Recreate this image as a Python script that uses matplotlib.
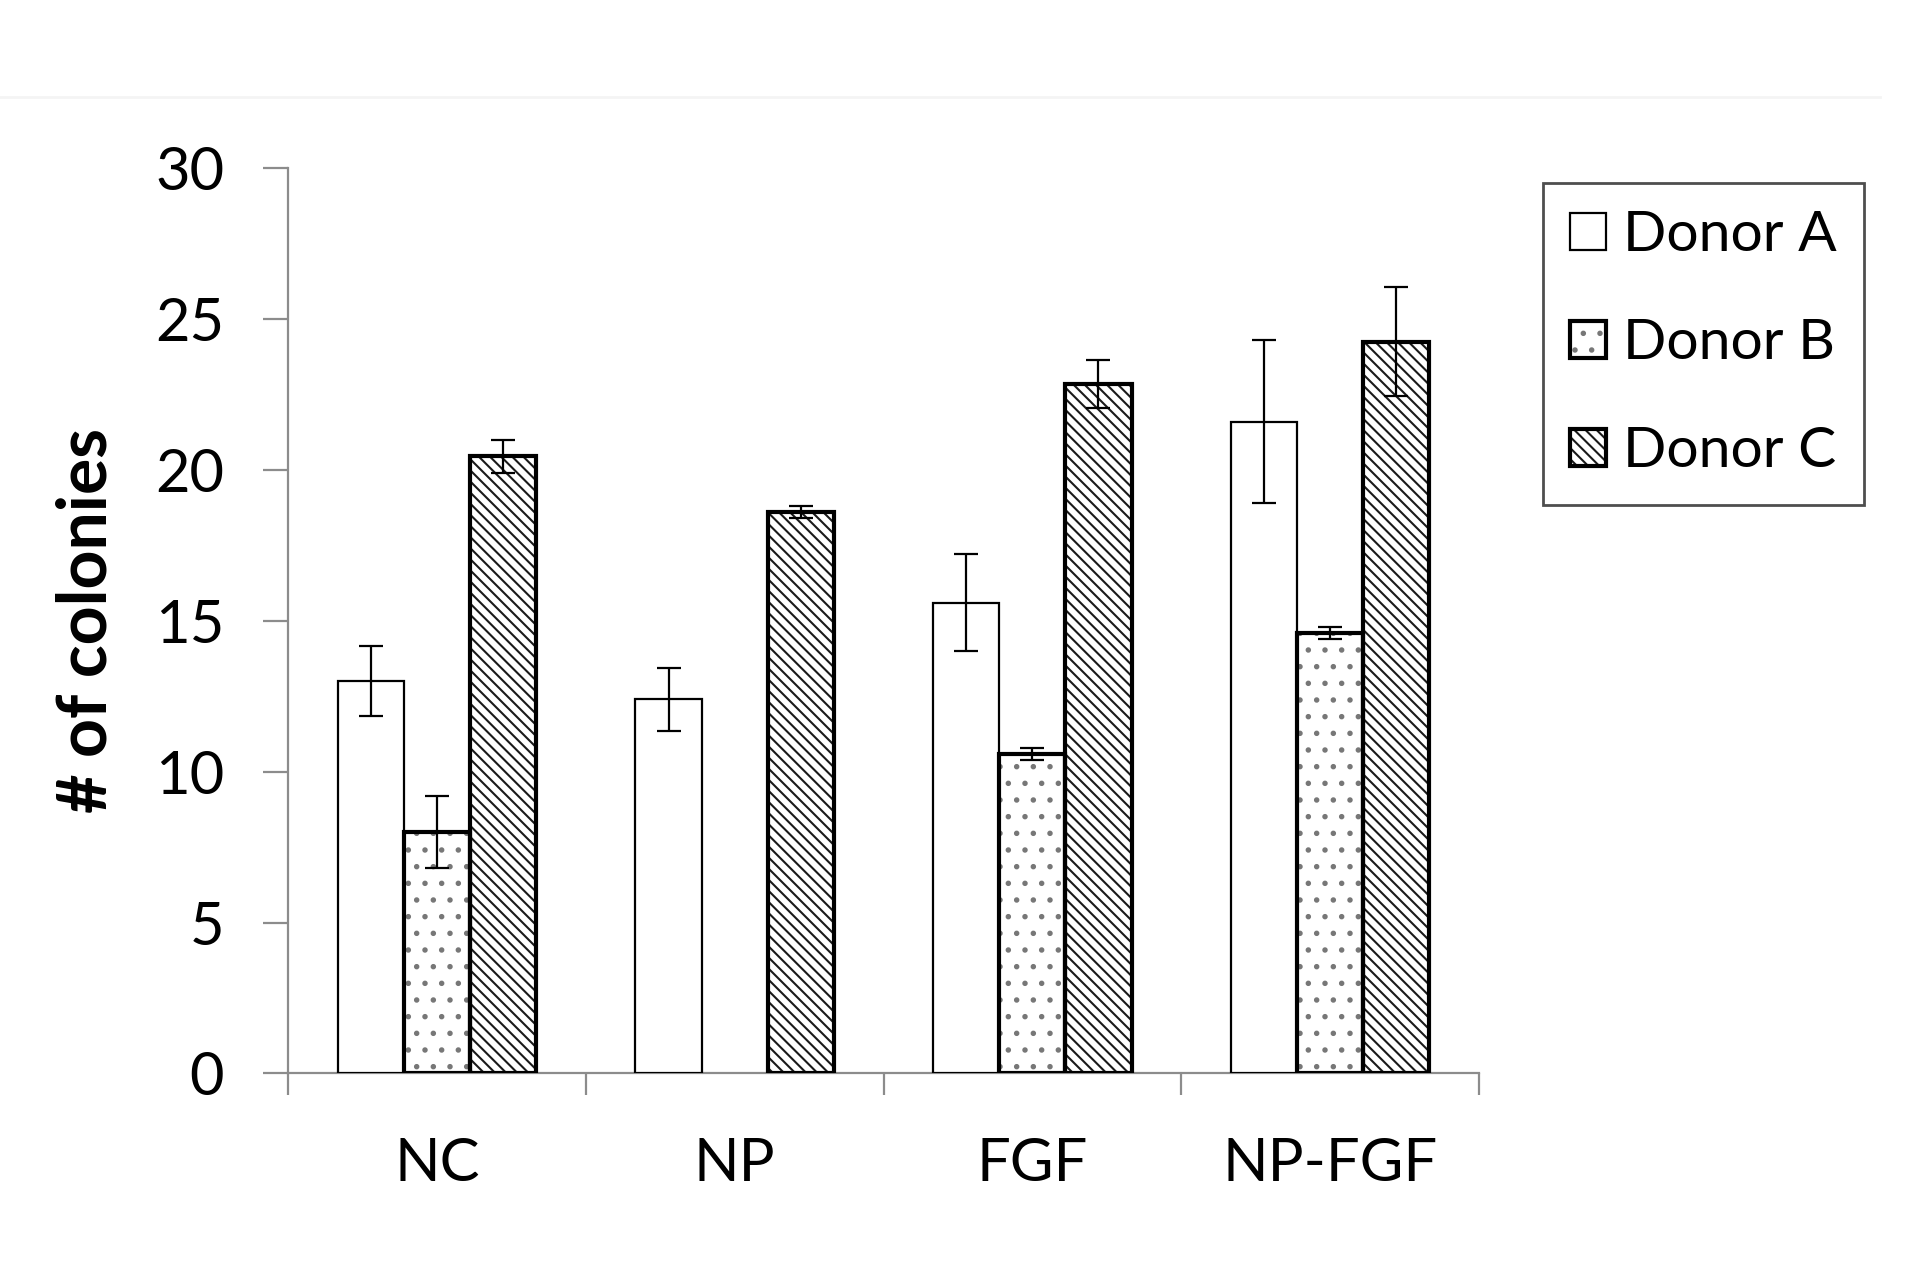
import matplotlib
matplotlib.use("Agg")
import matplotlib.pyplot as plt
import numpy as np
from matplotlib.ticker import FixedLocator

categories = ["NC", "NP", "FGF", "NP-FGF"]
series_names = ["Donor A", "Donor B", "Donor C"]
donor_a = [13.0, 12.4, 15.6, 21.6]
donor_a_err = [1.15, 1.05, 1.6, 2.7]
donor_b = [8.0, 0.0, 10.6, 14.6]
donor_b_err = [1.2, 0.0, 0.2, 0.2]
donor_c = [20.45, 18.6, 22.85, 24.25]
donor_c_err = [0.55, 0.2, 0.8, 1.8]
yticks = [0, 5, 10, 15, 20, 25, 30]

plt.rcParams['font.family'] = ['Lato', 'DejaVu Sans']
plt.rcParams['hatch.linewidth'] = 1.5

fig = plt.figure(figsize=(19.24, 12.76), dpi=100)
ax = fig.add_axes([0.1497, 0.1587, 0.7687 - 0.1497, 0.8683 - 0.1587])

x = np.arange(len(categories))
w = 0.222
ekw = dict(ecolor='black', elinewidth=1.6, capthick=1.6, capsize=8.5)

vals = [donor_a, donor_b, donor_c]
errs = [donor_a_err, donor_b_err, donor_c_err]
hatches = [None, '.', '\\\\\\']
hatch_colors = ['white', '#777777', '#1a1a1a']
lws = [1.6, 3.0, 3.0]
handles = []
for i in range(3):
    pos = x + (i - 1) * w
    heights = [v if v > 0 else np.nan for v in vals[i]]
    yerr = [e if v > 0 else np.nan for v, e in zip(vals[i], errs[i])]
    bf = ax.bar(pos, heights, w, color='white', edgecolor=hatch_colors[i],
                linewidth=0, hatch=hatches[i], zorder=2)
    be = ax.bar(pos, heights, w, facecolor='none', edgecolor='black',
                linewidth=lws[i], zorder=2.5)
    ax.errorbar(pos, heights, yerr=yerr, fmt='none', zorder=3, **ekw)
    handles.append((bf, be))

ax.set_xlim(-0.5, 3.5)
ax.set_ylim(0, 30)
for s in ['top', 'right']:
    ax.spines[s].set_visible(False)
for s in ['left', 'bottom']:
    ax.spines[s].set_color('#8c8c8c')
    ax.spines[s].set_linewidth(1.6)
    ax.spines[s].set_zorder(1.5)

ax.set_yticks(yticks)
ax.set_yticklabels([str(t) for t in yticks], fontsize=43)
ax.tick_params(axis='y', direction='out', length=18, width=1.6, color='#8c8c8c', pad=28)

ax.set_xticks(x)
ax.set_xticklabels(categories, fontsize=43)
ax.tick_params(axis='x', which='major', length=0, pad=46)
ax.xaxis.set_minor_locator(FixedLocator(np.arange(-0.5, 4.0, 1.0)))
ax.tick_params(axis='x', which='minor', direction='out', length=16, width=1.6, color='#8c8c8c')

ax.set_ylabel("# of colonies", fontsize=49, fontweight='bold')
ax.yaxis.set_label_coords(-0.142, 0.5)

leg = fig.legend(handles=handles, labels=series_names, loc='upper left',
                 bbox_to_anchor=(0.802, 0.8566), fontsize=41, frameon=True,
                 fancybox=False, edgecolor='#222222', handlelength=0.62,
                 handleheight=0.62, handletextpad=0.3, labelspacing=1.0,
                 borderpad=0.48, borderaxespad=0)
leg.get_frame().set_linewidth(2)

fig.add_artist(plt.Line2D([0, 0.977], [1 - 97 / 1276, 1 - 97 / 1276],
                          color='#f4f4f4', lw=2, transform=fig.transFigure))

fig.savefig("out.png", dpi=100, facecolor='white')
